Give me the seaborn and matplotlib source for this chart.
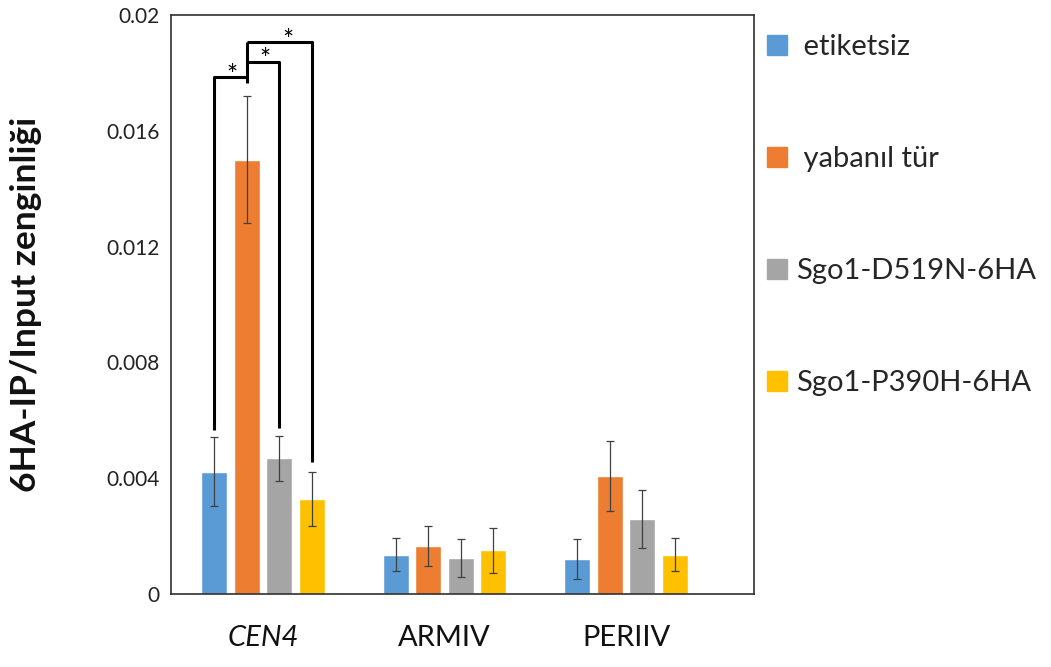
import matplotlib
matplotlib.use("Agg")
import matplotlib.pyplot as plt
from matplotlib.lines import Line2D
import seaborn as sns
import pandas as pd
import numpy as np

# ---- data ----
regions = ["CEN4", "ARMIV", "PERIIV"]
series = [" etiketsiz", " yabanıl tür", "Sgo1-D519N-6HA", "Sgo1-P390H-6HA"]
etiketsiz = [0.00422, 0.00136, 0.00121]
yabanil = [0.01500, 0.00166, 0.00408]
d519n = [0.00469, 0.00125, 0.00258]
p390h = [0.00327, 0.00151, 0.00136]
err_etiketsiz = [0.00119, 0.00058, 0.00068]
err_yabanil = [0.00220, 0.00070, 0.00120]
err_d519n = [0.00077, 0.00066, 0.00100]
err_p390h = [0.00093, 0.00078, 0.00058]
yticks = [0, 0.004, 0.008, 0.012, 0.016, 0.02]
ytick_labels = ["0", "0.004", "0.008", "0.012", "0.016", "0.02"]
colors = ["#5B9BD5", "#ED7D31", "#A5A5A5", "#FFC000"]

values = [etiketsiz, yabanil, d519n, p390h]
errors = [err_etiketsiz, err_yabanil, err_d519n, err_p390h]

rows = []
for s, vals in zip(series, values):
    for r, v in zip(regions, vals):
        rows.append({"region": r, "series": s, "value": v})
df = pd.DataFrame(rows)

sns.set_theme(style="white")
plt.rcParams["font.family"] = ["Lato", "DejaVu Sans"]

fig = plt.figure(figsize=(10.51, 6.67), dpi=100)
W, H = 1051, 667
ax = fig.add_axes([171 / W, 1 - 594 / H, (754 - 171) / W, (594 - 15) / H])

sns.barplot(data=df, x="region", y="value", hue="series", order=regions,
            hue_order=series, palette=colors, width=0.716, gap=0.2,
            errorbar=None, legend=False, saturation=1, ax=ax)

# error bars
centers = []
for cont, errs in zip(ax.containers, errors):
    xs = [p.get_x() + p.get_width() / 2 for p in cont.patches]
    hs = [p.get_height() for p in cont.patches]
    centers.append(xs)
    ax.errorbar(xs, hs, yerr=errs, fmt="none", ecolor="#404040",
                elinewidth=0.9, capsize=3.2, capthick=0.9, zorder=5)

ax.set_xlim(-0.507, 2.705)
ax.set_ylim(0, 0.02)
ax.set_yticks(yticks)
ax.set_yticklabels(ytick_labels)
ax.tick_params(axis="y", length=0, pad=8, labelsize=15, colors="#222222")
ax.tick_params(axis="x", length=0, pad=22, labelsize=21, colors="#111111")
for lbl in ax.get_xticklabels():
    if lbl.get_text() == "CEN4":
        lbl.set_fontstyle("italic")
ax.set_xlabel("")
ax.set_ylabel("6HA-IP/Input zenginliği", fontsize=25.5, fontweight="bold",
              color="#111111")
ax.yaxis.set_label_coords(-0.222, 0.5)
for sp in ax.spines.values():
    sp.set_visible(True)
    sp.set_color("#303030")
    sp.set_linewidth(1.2)

# significance brackets (CEN4 group)
xb, xo, xg, xy = centers[0][0], centers[1][0], centers[2][0], centers[3][0]
y1, y2, y3 = 0.01786, 0.01838, 0.01907
yb_leg, yg_leg, yy_leg = 0.00566, 0.00573, 0.00456
y_join = 0.01765
lw = 2.2
kw = dict(color="black", lw=lw, solid_capstyle="butt", zorder=6)
ax.plot([xb, xb, xo], [yb_leg, y1, y1], **kw)
ax.plot([xo, xo], [y_join, y3], **kw)
ax.plot([xo, xg, xg], [y2, y2, yg_leg], **kw)
ax.plot([xo, xy, xy], [y3, y3, yy_leg], **kw)
star_kw = dict(ha="center", va="center", fontsize=19, color="black")
ax.text((xb + xo) / 2 + 0.01, y1 + 0.00002, "*", **star_kw)
ax.text((xo + xg) / 2 + 0.01, y2 + 0.00006, "*", **star_kw)
ax.text((xo + xy) / 2 + 0.05, y3 + 0.00002, "*", **star_kw)

# legend
handles = [Line2D([0], [0], marker="s", linestyle="none", markersize=14.4,
                  markerfacecolor=c, markeredgecolor=c) for c in colors]
fig.legend(handles, series, loc="upper left",
           bbox_to_anchor=(762 / W, 1 - 34 / H), frameon=False,
           fontsize=21, labelspacing=2.95, handlelength=1.0,
           handletextpad=0.15, borderpad=0, borderaxespad=0)

fig.savefig("out.png", dpi=100)
